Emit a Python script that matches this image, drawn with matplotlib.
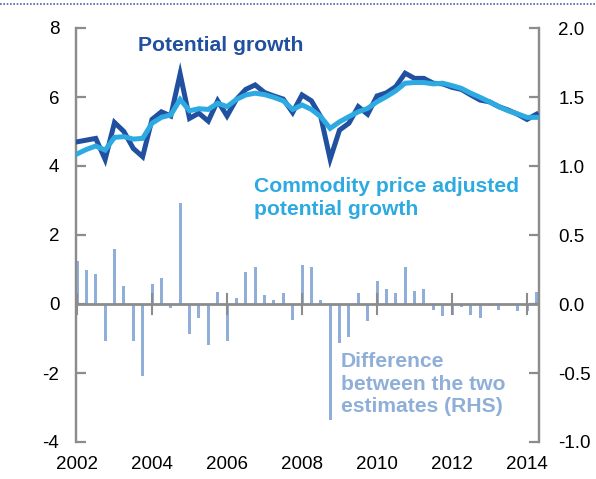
import numpy as np
import matplotlib.pyplot as plt
from matplotlib.lines import Line2D

# quarterly data, 2002Q1 - 2014Q2
start_year = 2002
potential = [4.70, 4.75, 4.80, 4.19, 5.26, 5.00, 4.51, 4.27, 5.35, 5.57,
             5.45, 6.67, 5.38, 5.53, 5.30, 5.89, 5.45, 5.93, 6.22, 6.35,
             6.13, 6.03, 5.94, 5.55, 6.06, 5.89, 5.43, 4.20, 5.04, 5.24,
             5.72, 5.50, 6.03, 6.12, 6.30, 6.69, 6.54, 6.54, 6.40, 6.38,
             6.28, 6.22, 6.06, 5.91, 5.86, 5.72, 5.62, 5.50, 5.35, 5.50]
adjusted = [4.35, 4.48, 4.58, 4.46, 4.83, 4.85, 4.78, 4.80, 5.24, 5.41,
            5.48, 5.93, 5.60, 5.66, 5.64, 5.82, 5.72, 5.93, 6.06, 6.11,
            6.07, 5.99, 5.89, 5.64, 5.77, 5.64, 5.43, 5.09, 5.28, 5.43,
            5.57, 5.67, 5.86, 6.01, 6.18, 6.40, 6.42, 6.42, 6.38, 6.40,
            6.33, 6.25, 6.11, 5.99, 5.86, 5.72, 5.60, 5.51, 5.41, 5.41]
difference = [0.31, 0.245, 0.215, -0.27, 0.40, 0.13, -0.27, -0.52, 0.145, 0.185,
              -0.027, 0.73, -0.22, -0.10, -0.30, 0.086, -0.27, 0.04, 0.235, 0.265,
              0.067, 0.03, 0.08, -0.114, 0.28, 0.27, 0.03, -0.84, -0.285, -0.24,
              0.08, -0.125, 0.17, 0.11, 0.08, 0.27, 0.094, 0.11, -0.046, -0.09,
              -0.08, -0.02, -0.08, -0.105, -0.017, -0.04, -0.005, -0.05, -0.05, 0.085]
year_ticks = [2002, 2004, 2006, 2008, 2010, 2012, 2014]
left_ticks = [-4, -2, 0, 2, 4, 6, 8]
right_ticks = [-1.0, -0.5, 0.0, 0.5, 1.0, 1.5, 2.0]

t = start_year + np.arange(len(potential)) / 4

dark = "#20509F"
light = "#2DAAE1"
barc = "#8FAFD8"
grey = "#8C8C8C"

plt.rcParams['font.family'] = ['Liberation Sans', 'DejaVu Sans']
plt.rcParams['axes.unicode_minus'] = False

fig = plt.figure(figsize=(5.96, 4.79), dpi=100)
ax = fig.add_axes([76/596, 1 - 442/479, (539 - 76)/596, (442 - 28)/479])
ax2 = ax.twinx()

# bars on RHS
ax2.bar(t, difference, width=0.08, color=barc, zorder=1)
ax2.set_ylim(-1, 2)
ax2.set_yticks(right_ticks)
ax2.set_yticklabels([f"{v:.1f}" for v in right_ticks])

# lines on LHS, drawn above bars
ax.set_zorder(ax2.get_zorder() + 1)
ax.patch.set_visible(False)
ax.plot(t, potential, color=dark, lw=3.6, solid_joinstyle='miter', zorder=3)
ax.plot(t, adjusted, color=light, lw=3.6, solid_joinstyle='miter', zorder=4)
ax.set_ylim(-4, 8)
ax.set_yticks(left_ticks)
ax.set_yticklabels([str(v) for v in left_ticks])
ax.set_xlim(start_year - 0.027, 2014.32)
ax.set_xticks(year_ticks)
ax.set_xticklabels([str(y) for y in year_ticks])

# zero line with crossing tick marks
ax.axhline(0, color=grey, lw=2, zorder=2)
for y in year_ticks:
    ax.plot([y, y], [-0.28, 0.28], color=grey, lw=1.5, zorder=2)

for a in (ax, ax2):
    for s in ("top", "bottom"):
        a.spines[s].set_visible(False)
    for s in ("left", "right"):
        a.spines[s].set_color(grey)
        a.spines[s].set_linewidth(1.6)
    a.tick_params(axis='y', direction='in', length=7, width=1.6, color=grey,
                  labelsize=13.5, labelcolor='black')
ax.tick_params(axis='y', pad=12)
ax2.tick_params(axis='y', pad=14)
ax.tick_params(axis='x', length=0, labelsize=13.5, pad=10)

ax.text(2005.84, 7.5, "Potential growth", color=dark, fontsize=15.2,
        fontweight='bold', ha='center', va='center')
ax.text(2006.72, 3.07, "Commodity price adjusted\npotential growth", color=light,
        fontsize=15.2, fontweight='bold', ha='left', va='center', linespacing=1.25)
ax.text(2009.04, -2.32, "Difference\nbetween the two\nestimates (RHS)", color=barc,
        fontsize=15.2, fontweight='bold', ha='left', va='center', linespacing=1.25)

# dotted rule at the very top (cut-off header)
fig.add_artist(Line2D([0, 1], [1 - 4/479, 1 - 4/479], transform=fig.transFigure,
                      color="#4A60B0", lw=1.2, ls=(0, (1, 1))))

fig.savefig("out.png", dpi=100)
